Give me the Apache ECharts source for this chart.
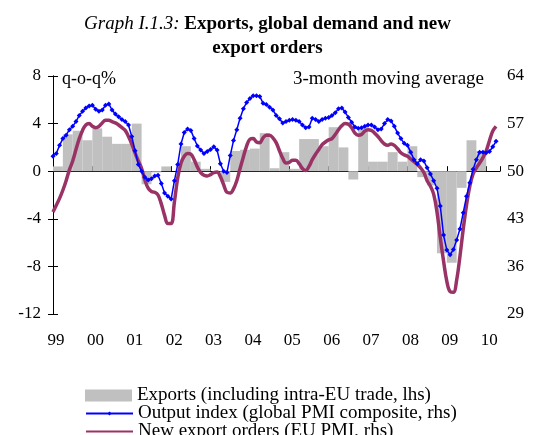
<!DOCTYPE html>
<html>
<head>
<meta charset="utf-8">
<script src="https://cdn.jsdelivr.net/npm/echarts@6/dist/echarts.min.js"></script>
<style>
html, body { margin: 0; padding: 0; background: #fff; }
#chart { width: 535px; height: 435px; }
</style>
</head>
<body>
<div id="chart"></div>
<script>
// quarterly exports growth, q-o-q %, Q1 1999 .. Q4 2009 (lhs)
var exports_qoq = [0.4, 3.1, 3.4, 2.6,
    3.6, 2.9, 2.3, 2.3,
    4.0, -1.1, -0.1, 0.4,
    0.0, 2.1, 0.8, 0.2,
    0.0, -0.9, 1.7, 1.8,
    1.9, 3.2, 0.25, 1.6,
    0.2, 2.7, 2.7, 2.1,
    3.7, 2.0, -0.7, 3.7,
    0.8, 0.8, 1.6, 0.8,
    2.1, -0.5, -1.2, -6.9,
    -7.7, -1.4, 2.6, 1.7];

// monthly, Jan 1999 .. Apr 2010 (rhs)
var output_index = [52.2, 52.6, 53.8, 54.8, 55.3, 56.1, 56.6, 57.3, 58.2, 58.8, 59.3, 59.6,
    59.7, 59.1, 58.8, 59.0, 59.7, 59.9, 59.0, 58.4, 58.0, 57.6, 57.3, 56.8,
    55.1, 53.0, 51.0, 50.0, 49.1, 48.7, 48.9, 49.3, 49.4, 48.2, 46.8, 46.3,
    45.9, 48.6, 51.0, 54.0, 55.7, 56.2, 56.0, 54.8, 53.7, 53.1, 52.6, 52.9,
    53.2, 53.6, 53.1, 51.1, 50.0, 49.8, 52.3, 54.5, 56.1, 57.8, 59.2, 60.1,
    60.7, 61.1, 61.1, 61.0, 60.0, 59.8, 59.4, 59.0, 58.2, 57.7, 57.1, 57.3,
    57.5, 57.6, 57.5, 57.3, 56.8, 56.4, 56.5, 57.8, 57.6, 57.3, 57.6, 57.8,
    57.9, 58.2, 58.6, 59.2, 59.3, 58.7, 57.9, 57.2, 56.5, 56.3, 56.4, 56.6,
    56.8, 56.8, 56.5, 56.1, 56.2, 57.0, 57.6, 57.4, 56.6, 55.6, 54.8, 54.1,
    53.8, 52.8, 51.7, 51.1, 51.7, 51.5, 50.5, 49.6, 48.6, 47.5, 44.9, 40.6,
    38.4, 37.7, 38.5, 39.9, 41.5, 43.9, 46.3, 48.3, 50.3, 51.7, 52.8, 52.8,
    52.7, 52.9, 53.6, 54.4];

var export_orders = [44.0, 45.0, 46.0, 47.2, 48.6, 50.2, 51.5, 53.2, 54.8, 56.0, 56.8, 57.0,
    56.6, 56.4, 56.6, 57.1, 57.5, 57.5, 57.3, 57.1, 56.8, 56.4, 56.0, 55.1,
    54.0, 52.7, 51.5, 50.4, 48.7, 47.5, 47.0, 46.9, 46.5, 45.2, 43.5, 42.3,
    42.3, 45.5, 49.0, 51.2, 52.2, 52.6, 52.5, 51.7, 50.6, 49.8, 49.4, 49.3,
    49.5, 49.8, 49.9, 49.2, 48.0, 46.9, 46.8, 47.4, 48.6, 50.4, 52.1, 53.7,
    54.7, 54.8, 54.3, 54.2, 54.9, 55.3, 55.3, 54.9, 54.2, 53.0, 51.9, 51.2,
    51.3, 51.6, 51.6, 51.1, 50.4, 50.1, 50.7, 51.7, 52.5, 53.2, 53.9, 54.3,
    54.6, 54.8, 55.4, 56.1, 56.7, 57.0, 56.9, 56.4, 55.6, 55.3, 55.4, 55.9,
    56.1, 56.0, 55.6, 55.1, 54.5, 54.0, 53.8, 54.0, 53.8, 53.3, 52.7, 52.4,
    52.2, 51.8, 51.4, 51.0, 50.5, 49.8, 48.6, 47.8, 46.6, 44.0, 40.2, 36.8,
    33.8, 32.3, 32.2, 34.0, 37.5, 41.5, 45.0, 47.8, 49.6, 50.5, 51.2, 52.0,
    53.0, 54.5, 55.9, 56.6];

var names = ['Exports (including intra-EU trade, lhs)',
    'Output index (global PMI composite, rhs)',
    'New export orders (EU PMI, rhs)'];

var font = '"Liberation Serif", "Times New Roman", serif';
var first_year = 1999;

// x is counted in months from Jan 1999, quarters sit in the middle of their 3 months
var bar_data = exports_qoq.map(function (v, i) { return [i * 3 + 1.5, v]; });
var output_data = output_index.map(function (v, i) { return [i, v]; });
var orders_data = export_orders.map(function (v, i) { return [i, v]; });

function year_label(v) {
    var y = Math.round(first_year + v / 12) % 100;
    return (y < 10 ? '0' : '') + y;
}

// one legend per row so each key can have its own icon size
function legend_row(name, top, h, extra) {
    var item = { name: name };
    if (extra) {
        for (var k in extra) item[k] = extra[k];
    }
    return {
        orient: 'vertical',
        left: 85,
        top: top,
        padding: 0,
        itemWidth: 47,
        itemHeight: h,
        data: [item],
        textStyle: { fontFamily: font, fontSize: 19, color: '#000', lineHeight: 17 }
    };
}

var chart = echarts.init(document.getElementById('chart'));

var option = {
    animation: false,
    backgroundColor: '#fff',
    title: {
        text: '{i|Graph I.1.3:} {b|Exports, global demand and new}\n{b|export orders}',
        left: 'center',
        top: 7,
        textStyle: {
            fontFamily: font,
            fontSize: 19,
            lineHeight: 24,
            color: '#000',
            rich: {
                i: { fontFamily: font, fontSize: 19, fontStyle: 'italic', fontWeight: 'normal', color: '#000', lineHeight: 24 },
                b: { fontFamily: font, fontSize: 19, fontWeight: 'bold', color: '#000', lineHeight: 24 }
            }
        }
    },
    grid: { left: 53, right: 35, top: 76, bottom: 121 },
    legend: [
        legend_row(names[0], 386, 12, { icon: 'rect' }),
        legend_row(names[1], 404, 5),
        legend_row(names[2], 422, 4, { itemStyle: { opacity: 0 } })
    ],
    graphic: [
        { type: 'text', left: 62, top: 70, style: { text: 'q-o-q%', font: '18px ' + font, fill: '#000' } },
        { type: 'text', right: 51, top: 70, style: { text: '3-month moving average', font: '19px ' + font, fill: '#000' } }
    ],
    xAxis: [{
        type: 'value',
        min: 0,
        max: 136.2,
        interval: 12,
        axisLine: { onZero: true, onZeroAxisIndex: 0, lineStyle: { color: '#000', width: 1 } },
        axisTick: { inside: true, length: 5, lineStyle: { color: '#000' } },
        axisLabel: { show: false },
        splitLine: { show: false }
    }, {
        type: 'value',
        position: 'bottom',
        min: 0,
        max: 136.2,
        interval: 12,
        axisLine: { show: false, onZero: false },
        axisTick: { show: false },
        axisLabel: { margin: 18, padding: [0, 0, 0, 6], fontFamily: font, fontSize: 17, color: '#000', formatter: year_label },
        splitLine: { show: false }
    }],
    yAxis: [{
        type: 'value',
        position: 'left',
        min: -12,
        max: 8,
        interval: 4,
        axisLine: { show: true, lineStyle: { color: '#000' } },
        axisTick: { show: true, inside: true, length: 5, lineStyle: { color: '#000' } },
        axisLabel: { margin: 12, fontFamily: font, fontSize: 17, color: '#000' },
        splitLine: { show: false }
    }, {
        type: 'value',
        position: 'right',
        min: 29,
        max: 64,
        interval: 7,
        axisLine: { show: true, lineStyle: { color: '#000' } },
        axisTick: { show: true, inside: true, length: 5, lineStyle: { color: '#000' } },
        axisLabel: { margin: 7, fontFamily: font, fontSize: 17, color: '#000' },
        splitLine: { show: false }
    }],
    series: [{
        name: names[0],
        type: 'bar',
        xAxisIndex: 0,
        yAxisIndex: 0,
        barWidth: 9.85,
        itemStyle: { color: '#C0C0C0' },
        data: bar_data
    }, {
        name: names[1],
        type: 'line',
        xAxisIndex: 0,
        yAxisIndex: 1,
        z: 4,
        symbol: 'diamond',
        symbolSize: 5,
        lineStyle: { color: '#0000FF', width: 1.5 },
        itemStyle: { color: '#0000FF' },
        data: output_data
    }, {
        name: names[2],
        type: 'line',
        xAxisIndex: 0,
        yAxisIndex: 1,
        z: 3,
        symbol: 'none',
        smooth: 0.4,
        lineStyle: { color: '#993366', width: 3.5 },
        itemStyle: { color: '#993366' },
        data: orders_data
    }]
};

chart.setOption(option);
</script>
</body>
</html>
